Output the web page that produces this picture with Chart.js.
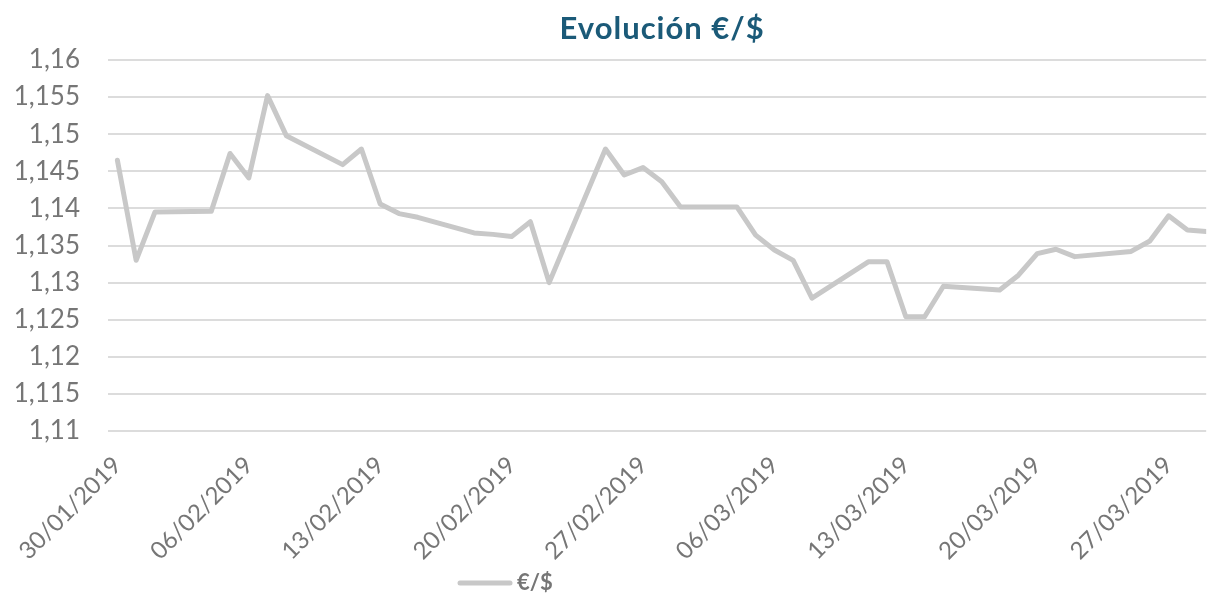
<!DOCTYPE html>
<html><head><meta charset="utf-8">
<script src="https://cdn.jsdelivr.net/npm/chart.js@4.4.1/dist/chart.umd.min.js"></script>
<style>html,body{margin:0;padding:0;background:#fff;} canvas{display:block;}</style>
</head><body>
<canvas id="c" width="1209" height="593"></canvas>
<script>
const chartTitle = 'Evolución €/$';
const seriesName = '€/$';
const dates = [
  '30/01/2019','31/01/2019','01/02/2019','04/02/2019','05/02/2019','06/02/2019','07/02/2019','08/02/2019',
  '11/02/2019','12/02/2019','13/02/2019','14/02/2019','15/02/2019','18/02/2019','19/02/2019','20/02/2019',
  '21/02/2019','22/02/2019','25/02/2019','26/02/2019','27/02/2019','28/02/2019','01/03/2019','04/03/2019',
  '05/03/2019','06/03/2019','07/03/2019','08/03/2019','11/03/2019','12/03/2019','13/03/2019','14/03/2019',
  '15/03/2019','18/03/2019','19/03/2019','20/03/2019','21/03/2019','22/03/2019','25/03/2019','26/03/2019',
  '27/03/2019','28/03/2019','29/03/2019'
];
const rates = [
  1.1465,1.1330,1.1395,1.1396,1.1474,1.1441,1.1552,1.1498,
  1.1459,1.1480,1.1406,1.1393,1.1388,1.1367,1.1365,1.1362,
  1.1382,1.1300,1.1480,1.1445,1.1455,1.1436,1.1402,1.1402,
  1.1364,1.1344,1.1330,1.1279,1.1328,1.1328,1.1254,1.1254,
  1.1295,1.1290,1.1310,1.1339,1.1345,1.1335,1.1342,1.1356,
  1.1390,1.1371,1.1369
];
const xTickLabels = ['30/01/2019','06/02/2019','13/02/2019','20/02/2019','27/02/2019','06/03/2019','13/03/2019','20/03/2019','27/03/2019'];
const yTickLabels = ['1,11','1,115','1,12','1,125','1,13','1,135','1,14','1,145','1,15','1,155','1,16'];

function toUTC(s){ const p = s.split('/'); return Date.UTC(+p[2], +p[1]-1, +p[0]); }
const t0 = toUTC(dates[0]);
const dayOf = s => Math.round((toUTC(s) - t0) / 86400000);
const points = dates.map((d,i) => ({x: dayOf(d), y: rates[i]}));
const xTickValues = xTickLabels.map(dayOf);
const yTickValues = yTickLabels.map(l => parseFloat(l.replace(',', '.')));
const lastDay = dayOf(dates[dates.length-1]);

const FONT = 'Lato, "Open Sans", sans-serif';
const TXT = '#767676';
const LINE = '#c8c8c8';

const titlePlugin = {
  id: 'ctitle',
  afterDraw(chart){
    const {ctx, chartArea} = chart;
    ctx.save();
    ctx.font = 'bold 31px ' + FONT;
    if ('letterSpacing' in ctx) ctx.letterSpacing = '1px';
    ctx.fillStyle = '#1b5a78';
    ctx.textAlign = 'center';
    ctx.textBaseline = 'alphabetic';
    ctx.fillText(chartTitle, (chartArea.left + chartArea.right)/2 + 5, 39);
    ctx.restore();
  }
};
const legendPlugin = {
  id: 'clegend',
  afterDraw(chart){
    const {ctx, chartArea} = chart;
    const x0 = chartArea.left + 352;
    const y = 583;
    ctx.save();
    ctx.strokeStyle = LINE;
    ctx.lineWidth = 5;
    ctx.lineCap = 'round';
    ctx.beginPath(); ctx.moveTo(x0, y); ctx.lineTo(x0 + 50, y); ctx.stroke();
    ctx.font = 'bold 22px ' + FONT;
    ctx.fillStyle = TXT;
    ctx.textAlign = 'left';
    ctx.textBaseline = 'alphabetic';
    ctx.fillText(seriesName, x0 + 57, 590);
    ctx.restore();
  }
};

new Chart(document.getElementById('c'), {
  type: 'line',
  data: { datasets: [{
    label: seriesName,
    data: points,
    borderColor: LINE,
    borderWidth: 5,
    pointRadius: 0,
    tension: 0,
    borderJoinStyle: 'round',
    borderCapStyle: 'round',
    fill: false
  }]},
  options: {
    responsive: false,
    devicePixelRatio: 1,
    animation: false,
    layout: { padding: { top: 60, right: 0, bottom: 0, left: 0 } },
    plugins: { legend: { display: false }, title: { display: false }, tooltip: { enabled: false } },
    scales: {
      x: {
        type: 'linear',
        min: -0.5,
        max: lastDay,
        afterBuildTicks: s => { s.ticks = xTickValues.map(v => ({value: v})); },
        afterFit: s => { s.height = 162; },
        ticks: {
          callback: (v) => { const i = xTickValues.indexOf(v); return i >= 0 ? xTickLabels[i] : ''; },
          maxRotation: 45, minRotation: 45,
          autoSkip: false,
          padding: 20,
          color: TXT,
          font: { family: FONT, size: 24 }
        },
        grid: { display: false, drawTicks: false },
        border: { display: false }
      },
      y: {
        min: yTickValues[0],
        max: yTickValues[yTickValues.length-1],
        afterBuildTicks: s => { s.ticks = yTickValues.map(v => ({value: v})); },
        afterFit: s => { s.width = 108; },
        ticks: {
          callback: (v) => { const i = yTickValues.findIndex(t => Math.abs(t - v) < 1e-9); return i >= 0 ? yTickLabels[i] : ''; },
          padding: 28,
          color: TXT,
          font: { family: FONT, size: 26 }
        },
        grid: { color: '#dcdcdc', lineWidth: 2, drawTicks: false },
        border: { display: false }
      }
    }
  },
  plugins: [titlePlugin, legendPlugin]
});
</script>
</body></html>
